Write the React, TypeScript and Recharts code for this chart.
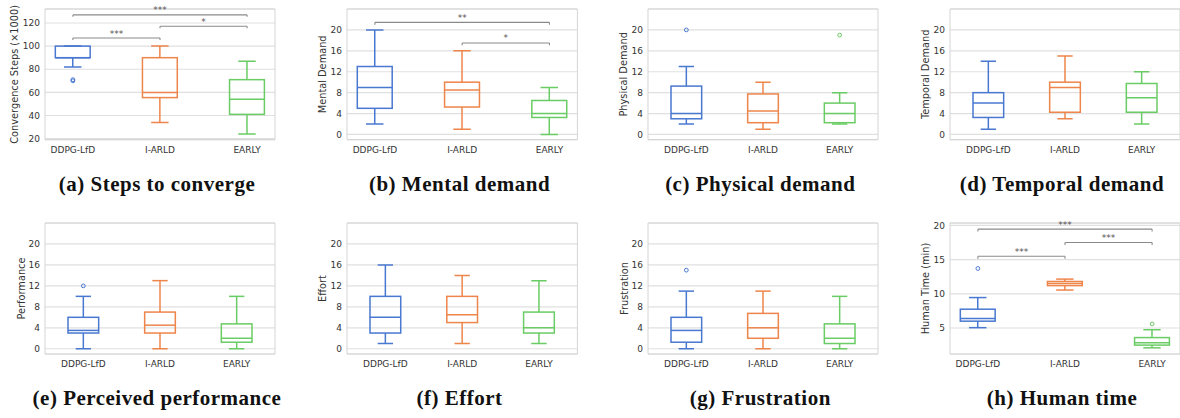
import React from 'react';
import {
  ComposedChart,
  Bar,
  Scatter,
  XAxis,
  YAxis,
  CartesianGrid,
  ReferenceLine,
  ReferenceArea,
} from 'recharts';

const methods = ['DDPG-LfD', 'I-ARLD', 'EARLY'];
const colors = ['#4878d0', '#ee854a', '#6acc64'];

// each box: [lower whisker, q1, median, q3, upper whisker]
const stepsBoxes = [
  [82, 90, 90, 100, 100],
  [34, 55.5, 60, 90, 100],
  [24, 41, 54, 71, 87],
];
const stepsOutliers = [[70, 71], [], []];
const stepsBrackets = [
  { from: 0, to: 1, y: 107, low: 105.3, text: '***' },
  { from: 1, to: 2, y: 117.2, low: 115.5, text: '*' },
  { from: 0, to: 2, y: 127, low: 125.3, text: '***' },
];

const mentalBoxes = [
  [2, 5, 9, 13, 20],
  [1, 5.25, 8.5, 10, 16],
  [0, 3.25, 4, 6.5, 9],
];
const mentalBrackets = [
  { from: 1, to: 2, y: 17.5, low: 17.05, text: '*' },
  { from: 0, to: 2, y: 21.45, low: 21.0, text: '**' },
];

const physicalBoxes = [
  [2, 3, 4, 9.25, 13],
  [1, 2.25, 4.5, 7.75, 10],
  [2, 2.25, 4, 6, 8],
];
const physicalOutliers = [[20], [], [19]];

const temporalBoxes = [
  [1, 3.25, 6, 8, 14],
  [3, 4.25, 9, 10, 15],
  [2, 4.25, 7, 9.75, 12],
];

const performanceBoxes = [
  [0, 3, 3.5, 6, 10],
  [0, 3, 4.5, 7, 13],
  [0, 1.25, 2, 4.75, 10],
];
const performanceOutliers = [[12], [], []];

const effortBoxes = [
  [1, 3, 6, 10, 16],
  [1, 5, 6.5, 10, 14],
  [1, 3, 4, 7, 13],
];

const frustrationBoxes = [
  [0, 1.25, 3.5, 6, 11],
  [0, 2, 4, 6.75, 11],
  [0, 1, 2, 4.75, 10],
];
const frustrationOutliers = [[15], [], []];

const humanTimeBoxes = [
  [5.05, 6.0, 6.4, 7.75, 9.45],
  [10.55, 11.2, 11.5, 11.8, 12.15],
  [2.1, 2.5, 2.85, 3.6, 4.75],
];
const humanTimeOutliers = [[13.7], [], [5.6]];
const humanTimeBrackets = [
  { from: 0, to: 1, y: 15.5, low: 15.12, text: '***' },
  { from: 1, to: 2, y: 17.5, low: 17.12, text: '***' },
  { from: 0, to: 2, y: 19.45, low: 19.1, text: '***' },
];

const tlxTicks = [0, 4, 8, 12, 16, 20];
const stepsTicks = [20, 40, 60, 80, 100, 120];
const humanTicks = [5, 10, 15, 20];

const WIDE = [-0.32, 2.32];
const STD = [-0.5, 2.5];
const TLX = [-1, 24];

const panels = [
  { left: 45, top: 9.3, w: 230, h: 130.7, xd: WIDE, yd: [19.1, 132.1], ticks: stepsTicks, label: 'Convergence Steps (×1000)', dist: 31, caption: '(a) Steps to converge', boxes: stepsBoxes, outliers: stepsOutliers, brackets: stepsBrackets },
  { left: 347.3, top: 9.3, w: 230.4, h: 130.7, xd: WIDE, yd: TLX, ticks: tlxTicks, label: 'Mental Demand', dist: 25, caption: '(b) Mental demand', boxes: mentalBoxes, outliers: [[], [], []], brackets: mentalBrackets },
  { left: 648.3, top: 9.3, w: 230, h: 130.7, xd: STD, yd: TLX, ticks: tlxTicks, label: 'Physical Demand', dist: 25, caption: '(c) Physical demand', boxes: physicalBoxes, outliers: physicalOutliers, brackets: [] },
  { left: 950, top: 9.3, w: 230, h: 130.7, xd: STD, yd: TLX, ticks: tlxTicks, label: 'Temporal Demand', dist: 25, caption: '(d) Temporal demand', boxes: temporalBoxes, outliers: [[], [], []], brackets: [] },
  { left: 45, top: 223.3, w: 230, h: 131, xd: STD, yd: TLX, ticks: tlxTicks, label: 'Performance', dist: 24, caption: '(e) Perceived performance', boxes: performanceBoxes, outliers: performanceOutliers, brackets: [] },
  { left: 347.3, top: 223.3, w: 230.4, h: 131, xd: STD, yd: TLX, ticks: tlxTicks, label: 'Effort', dist: 24, caption: '(f) Effort', boxes: effortBoxes, outliers: [[], [], []], brackets: [] },
  { left: 648.3, top: 223.3, w: 230, h: 131, xd: STD, yd: TLX, ticks: tlxTicks, label: 'Frustration', dist: 24, caption: '(g) Frustration', boxes: frustrationBoxes, outliers: frustrationOutliers, brackets: [] },
  { left: 950, top: 223.3, w: 230, h: 131, xd: WIDE, yd: [1.2, 20.35], ticks: humanTicks, label: 'Human Time (min)', dist: 25, caption: '(h) Human time', boxes: humanTimeBoxes, outliers: humanTimeOutliers, brackets: humanTimeBrackets },
];

const SANS = 'DejaVu Sans, sans-serif';
const ML = 45;
const MT = 12;
const MR = 6;
const MB = 24;

const BoxShape = (props: any) => {
  const { x, y, width, height, payload } = props;
  if (!payload || !payload.stats) return null;
  const top = Math.min(y, y + height);
  const bottom = Math.max(y, y + height);
  const [lo, q1, med, q3, hi] = payload.stats;
  const px = (v: number) => (hi === lo ? top : bottom - ((v - lo) / (hi - lo)) * (bottom - top));
  const cx = x + width / 2;
  const cap = width / 4;
  return (
    <g stroke={payload.color} strokeWidth={1.5} fill="none">
      <line x1={cx} x2={cx} y1={px(hi)} y2={px(q3)} />
      <line x1={cx} x2={cx} y1={px(q1)} y2={px(lo)} />
      <line x1={cx - cap} x2={cx + cap} y1={px(hi)} y2={px(hi)} />
      <line x1={cx - cap} x2={cx + cap} y1={px(lo)} y2={px(lo)} />
      <rect x={x} y={px(q3)} width={width} height={px(q1) - px(q3)} />
      <line x1={x} x2={x + width} y1={px(med)} y2={px(med)} />
    </g>
  );
};

const OutlierDot = (props: any) => {
  const { cx, cy, payload } = props;
  return <circle cx={cx} cy={cy} r={1.9} fill="none" stroke={payload?.color} strokeWidth={1} />;
};

function Panel({ spec }: { spec: any }) {
  const { left, top, w, h, xd, yd, ticks, label, dist, boxes, outliers, brackets } = spec;
  const rows = boxes.map((s: number[], i: number) => ({ x: i, stats: s, range: [s[0], s[4]], color: colors[i] }));
  const pts = outliers.flatMap((arr: number[], i: number) => arr.map((v) => ({ x: i, y: v, color: colors[i] })));
  const barSize = (0.4 * w) / (xd[1] - xd[0]);

  return (
    <div style={{ position: 'absolute', left: left - ML, top: top - MT }}>
      <ComposedChart
        width={ML + w + MR}
        height={MT + h + MB}
        data={rows}
        margin={{ top: MT, right: MR, bottom: 0, left: 0 }}
      >
        <CartesianGrid vertical={false} stroke="#e0e0e0" strokeWidth={1.2} />
        <XAxis
          dataKey="x"
          type="number"
          domain={xd}
          ticks={[0, 1, 2]}
          interval={0}
          allowDataOverflow
          axisLine={false}
          tickLine={false}
          height={MB}
          tick={(p: any) => (
            <text x={p.x} y={MT + h + 13} textAnchor="middle" fontSize={9} fill="#333" fontFamily={SANS}>
              {methods[p.payload.value]}
            </text>
          )}
        />
        <YAxis
          type="number"
          domain={yd}
          ticks={ticks}
          interval={0}
          allowDataOverflow
          axisLine={false}
          tickLine={false}
          width={ML}
          tick={(p: any) => (
            <text x={ML - 5} y={p.y} dy="0.35em" textAnchor="end" fontSize={9} fill="#333" fontFamily={SANS}>
              {p.payload.value}
            </text>
          )}
          label={{
            content: () => (
              <text
                transform={`translate(${ML - dist}, ${MT + h / 2}) rotate(-90)`}
                textAnchor="middle"
                dominantBaseline="central"
                fontSize={9.8}
                fill="#333"
                fontFamily={SANS}
              >
                {label}
              </text>
            ),
          }}
        />
        <ReferenceArea x1={xd[0]} x2={xd[1]} y1={yd[0]} y2={yd[1]} fill="none" stroke="#d4d4d4" strokeWidth={1} ifOverflow="visible" />
        <Bar dataKey="range" barSize={barSize} shape={BoxShape} isAnimationActive={false} />
        {pts.length > 0 && <Scatter data={pts} dataKey="y" shape={OutlierDot} isAnimationActive={false} />}
        {brackets.map((b: any, i: number) => (
          <ReferenceLine
            key={`h${i}`}
            segment={[{ x: b.from, y: b.y }, { x: b.to, y: b.y }]}
            stroke="#8a8a8a"
            strokeWidth={1.1}
            ifOverflow="visible"
            label={{ value: b.text, position: 'top', offset: 1.5, fontSize: 9, fill: '#555', fontFamily: SANS }}
          />
        ))}
        {brackets.map((b: any, i: number) => (
          <ReferenceLine key={`l${i}`} segment={[{ x: b.from, y: b.y }, { x: b.from, y: b.low }]} stroke="#8a8a8a" strokeWidth={1.1} ifOverflow="visible" />
        ))}
        {brackets.map((b: any, i: number) => (
          <ReferenceLine key={`r${i}`} segment={[{ x: b.to, y: b.y }, { x: b.to, y: b.low }]} stroke="#8a8a8a" strokeWidth={1.1} ifOverflow="visible" />
        ))}
      </ComposedChart>
    </div>
  );
}

export default function App() {
  return (
    <div style={{ position: 'absolute', left: 0, top: 0, width: 1180, height: 418, overflow: 'hidden', background: '#fff' }}>
      {panels.map((p, i) => (
        <Panel key={i} spec={p} />
      ))}
      <svg width={1180} height={418} style={{ position: 'absolute', left: 0, top: 0, pointerEvents: 'none' }}>
        {panels.map((p, i) => (
          <text
            key={i}
            x={p.left + p.w / 2 - 3}
            y={i < 4 ? 191 : 405}
            textAnchor="middle"
            fontFamily="Liberation Serif, serif"
            fontWeight="bold"
            fontSize={21}
            letterSpacing={0.5}
            fill="#111"
          >
            {p.caption}
          </text>
        ))}
      </svg>
    </div>
  );
}
